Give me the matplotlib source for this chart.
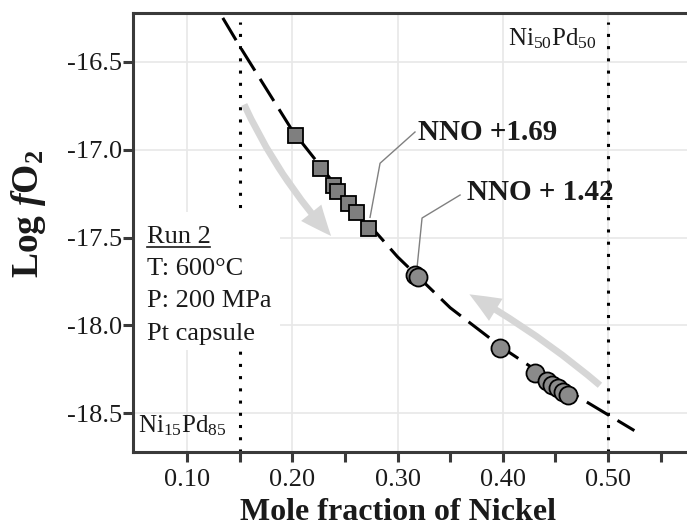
import matplotlib
matplotlib.use('Agg')
import matplotlib.pyplot as plt
from matplotlib.patches import FancyArrowPatch, Rectangle

plt.rcParams['font.family'] = ['Liberation Serif', 'DejaVu Serif']
plt.rcParams['mathtext.fontset'] = 'custom'
plt.rcParams['mathtext.rm'] = 'Liberation Serif'
plt.rcParams['mathtext.it'] = 'Liberation Serif:italic:bold'
plt.rcParams['mathtext.bf'] = 'Liberation Serif:bold'

# data
sq_x = [0.2026, 0.2264, 0.2387, 0.2425, 0.2530, 0.2606, 0.2720]
sq_y = [-16.916, -17.104, -17.200, -17.234, -17.302, -17.353, -17.444]
ci_x = [0.3166, 0.3194, 0.3974, 0.4307, 0.442, 0.447, 0.452, 0.457, 0.462]
ci_y = [-17.714, -17.726, -18.130, -18.272, -18.32, -18.34, -18.36, -18.38, -18.40]
fit_x = [0.134, 0.15, 0.20, 0.25, 0.30, 0.35, 0.40, 0.45, 0.50, 0.525]
fit_y = [-16.249, -16.41, -16.89, -17.27, -17.61, -17.90, -18.13, -18.33, -18.51, -18.60]
alloy_x = [0.15, 0.50]
lead1_x = [0.3166, 0.2834, 0.2739]
lead1_y = [-16.899, -17.077, -17.385]
lead2_x = [0.3594, 0.3233, 0.3185]
lead2_y = [-17.258, -17.389, -17.674]
xticks = [0.10, 0.20, 0.30, 0.40, 0.50]
yticks = [-16.5, -17.0, -17.5, -18.0, -18.5]

spine_col = '#3a3a3a'
fig = plt.figure(figsize=(6.87, 5.27), dpi=100)
ax = fig.add_axes([133/687, 1-452/527, 1-133/687, (452-13)/527])
ax.set_xlim(0.0487, 0.575)
ax.set_ylim(-18.722, -16.221)

ax.set_xticks(xticks)
ax.set_xticklabels(['%.2f' % v for v in xticks])
ax.set_xticks([0.15, 0.25, 0.35, 0.45, 0.55], minor=True)
ax.set_yticks(yticks)
ax.set_yticklabels(['%.1f' % v for v in yticks])
ax.grid(True, which='major', color='#e8e8e8', lw=1.2, zorder=0)
ax.set_axisbelow(True)
ax.tick_params(which='both', direction='out', length=7, width=2.2, color=spine_col,
               labelsize=19, labelcolor='#1a1a1a')
ax.tick_params(axis='x', pad=5)
ax.tick_params(axis='y', pad=1)
for s in ['left', 'bottom', 'top']:
    ax.spines[s].set_color(spine_col)
    ax.spines[s].set_linewidth(2.2)
    ax.spines[s].set_zorder(8)
ax.spines['right'].set_visible(False)

# alloy limits
ax.vlines(alloy_x, -18.722, -16.27, colors='black', linestyles=(0, (1, 3)), lw=2.2, zorder=2)

# info box (hides grid and dotted line behind it)
ax.add_patch(Rectangle((0.0487, -18.141), 0.1884-0.0487, 0.786, facecolor='white',
                       edgecolor='none', zorder=3))
ax.text(0.062, -17.531, 'Run 2', fontsize=19, color='#1a1a1a', zorder=4)
ax.plot([0.062, 0.1222], [-17.553, -17.553], color='#1a1a1a', lw=1.2, zorder=4)
ax.text(0.062, -17.714, 'T: 600\u00b0C', fontsize=19, color='#1a1a1a', zorder=4)
ax.text(0.062, -17.896, 'P: 200 MPa', fontsize=19, color='#1a1a1a', zorder=4)
ax.text(0.062, -18.084, 'Pt capsule', fontsize=19, color='#1a1a1a', zorder=4)

ax.text(0.4896, -16.403, r'Ni$_{50}$Pd$_{50}$', fontsize=18, ha='right', va='baseline', color='#1a1a1a')
ax.text(0.0534, -18.608, r'Ni$_{15}$Pd$_{85}$', fontsize=18, ha='left', va='baseline', color='#1a1a1a')

# arrows
a1 = FancyArrowPatch((0.1532, -16.728), (0.2387, -17.503), connectionstyle='arc3,rad=0.08',
                     arrowstyle='simple,head_length=1.0,head_width=0.85,tail_width=0.22',
                     mutation_scale=22, color='#d6d6d6', lw=0, zorder=2)
a2 = FancyArrowPatch((0.4943, -18.352), (0.3660, -17.816), connectionstyle='arc3,rad=0.05',
                     arrowstyle='simple,head_length=1.0,head_width=0.85,tail_width=0.22',
                     mutation_scale=22, color='#d6d6d6', lw=0, zorder=2)
ax.add_patch(a1)
ax.add_patch(a2)

# fit curve and data
ax.plot(fit_x, fit_y, color='black', lw=2.2, dashes=(8.5, 3.2), zorder=5)
ax.plot(sq_x, sq_y, 's', ms=10.8, mfc='#7f7f7f', mec='black', mew=1.3, zorder=6)
ax.plot(ci_x, ci_y, 'o', ms=13, mfc='#8a8a8a', mec='black', mew=1.3, zorder=6)

# labels
ax.plot(lead1_x, lead1_y, color='#808080', lw=1.0, zorder=5)
ax.plot(lead2_x, lead2_y, color='#808080', lw=1.0, zorder=5)
ax.text(0.3195, -16.899, 'NNO +1.69', fontsize=21, fontweight='bold', va='center', color='#1a1a1a', zorder=7)
ax.text(0.366, -17.246, 'NNO + 1.42', fontsize=21, fontweight='bold', va='center', color='#1a1a1a', zorder=7)

fig.text(398/687, 1-520/527, 'Mole fraction of Nickel', fontsize=23, fontweight='bold',
         ha='center', va='baseline', color='#1a1a1a')
fig.text(28/687, 1-214/527, r'$\mathbf{Log}\ \mathit{f}\mathbf{O}_\mathbf{2}$', fontsize=27,
         rotation=90, ha='center', va='center', color='#1a1a1a')

fig.savefig('out.png', dpi=100)
